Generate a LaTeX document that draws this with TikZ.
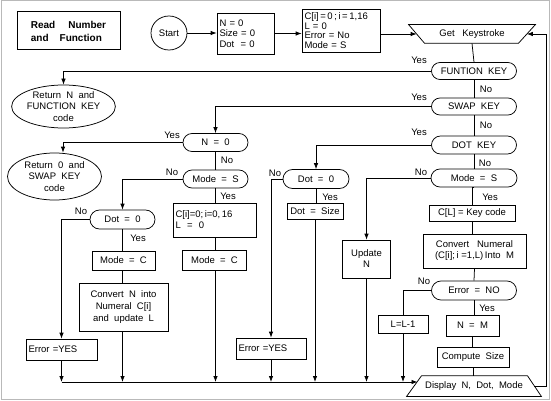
\documentclass[tikz,border=0pt]{standalone}
\usepackage{fontspec}
\setmainfont{Liberation Sans}
\usetikzlibrary{shapes.geometric,arrows.meta,calc}
\begin{document}
\begin{tikzpicture}[x=1pt,y=-1pt,line width=0.75pt,
  every node/.style={font=\fontsize{9.5}{11}\selectfont,inner sep=1.5pt},
  box/.style 2 args={draw,rectangle,minimum width=#1pt,minimum height=#2pt,align=center},
  lbox/.style 2 args={draw,rectangle,minimum width=#1pt,minimum height=#2pt,text width=#1pt-5pt,align=left,inner sep=2.5pt},
  stad/.style 2 args={draw,rectangle,rounded corners=#2/2*1pt,minimum width=#1pt,minimum height=#2pt},
  ell/.style 2 args={draw,ellipse,minimum width=#1pt,minimum height=#2pt,inner sep=0pt,align=center,font=\fontsize{9.5}{11.5}\selectfont},
  hid/.style 2 args={rectangle,minimum width=#1pt,minimum height=#2pt},
  lbl/.style={inner sep=0pt,font=\fontsize{9.5}{11}\selectfont},
  arr/.style={-{Latex[length=6pt,width=4.5pt]}}
]
\useasboundingbox (0,0) rectangle (551,401);
\draw[gray!55,line width=1pt] (1,1) rectangle (549,399);

% top row
\node[box={103}{38},line width=1pt,font=\bfseries\fontsize{10}{13}\selectfont,align=left] (title) at (68.5,31) {Read\hspace{1.3em}Number\\and\hspace{1.1em}Function};
\node[draw,ellipse,minimum width=36pt,minimum height=34pt,inner sep=0pt] (start) at (169,33) {Start};
\node[lbox={57}{41},font=\fontsize{9.5}{10.3}\selectfont] (n0) at (245.5,33.5) {N = 0\\Size = 0\\Dot\ \ = 0};
\node[lbox={78}{43},font=\fontsize{9.5}{9.6}\selectfont] (ci) at (341,30.5) {C[i]\,=\,0\,;\,i\,=\,1,16\\L = 0\\Error = No\\Mode = S};
\node[hid={126}{18}] (getk) at (472,34) {Get\hspace{0.8em}Keystroke};
\draw (getk.north west) -- (getk.north east) -- ([xshift=-17pt]getk.south east) -- ([xshift=16pt]getk.south west) -- cycle;

% trunk
\node[stad={85}{17}] (func) at (474,71) {FUNTION\ \ KEY};
\node[stad={85}{17}] (swap) at (474,106.5) {SWAP\ \ KEY};
\node[stad={85}{18}] (dotkey) at (474,145) {DOT\ \ KEY};
\node[stad={86}{18}] (modes2) at (474,178) {Mode\ \ =\ \ S};
\node[box={86}{16}] (clkey) at (472,213) {C[L] = Key code};
\node[box={103}{34}] (convm) at (474.5,251) {Convert\ \ \ Numeral\\(C[i];\,i =1,L)\,Into\ \ M};
\node[stad={85}{19}] (errno) at (474,290.5) {Error\ \ =\ \ NO};
\node[box={53}{21}] (nm) at (472.5,325.5) {N\ \ =\ \ M};
\node[box={72}{20}] (comp) at (473,357) {Compute\ \ Size};
\node[hid={134}{20}] (disp) at (474,386) {Display\ \ N,\ \ Dot,\ \ Mode};
\draw ([xshift=15pt]disp.north west) -- ([xshift=-14pt]disp.north east) -- (disp.south east) -- (disp.south west) -- cycle;

% left branches
\node[ell={99}{43}] (ret1) at (63.5,106.5) {Return\ \ N\ \ and\\FUNCTION\ \ KEY\\code};
\node[stad={65}{18}] (nz) at (215.5,142.5) {N\ \ =\ \ 0};
\node[ell={94}{47}] (ret2) at (54.5,176.5) {Return\ \ 0\ \ and\\SWAP\ \ KEY\\code};
\node[stad={65}{18}] (modes1) at (215.5,179) {Mode\ \ =\ \ S};
\node[lbox={83}{34}] (ci2) at (214.5,220) {C[i]=0;\,i=0,\,16\\L\ \ =\ \ 0};
\node[box={64}{20}] (modec1) at (214.5,260) {Mode\ \ =\ \ C};
\node[stad={65}{19}] (dotz1) at (122.5,219.5) {Dot\ \ =\ \ 0};
\node[box={63}{19}] (modec2) at (123.5,260.5) {Mode\ \ =\ \ C};
\node[box={89}{48},font=\fontsize{9.5}{12}\selectfont] (convn) at (123.5,307) {Convert\ \ N\ \ into\\Numeral\ \ C[i]\\and\ \ update\ \ L};
\node[lbox={71}{21}] (err1) at (61.5,349.5) {Error\ =YES};

% middle branches
\node[stad={66}{19}] (dotz2) at (316,179) {Dot\ \ =\ \ 0};
\node[box={56}{16}] (dotsize) at (315,211) {Dot\ \ =\ \ Size};
\node[lbox={70}{21}] (err2) at (271,348.5) {Error\ =YES};
\node[box={48}{38}] (update) at (366.5,259) {Update\\N};
\node[box={50}{18}] (llm) at (403,324) {L=L-1};

\coordinate (busE) at (417.5,382);
\coordinate (loopR) at (546,0);

% connectors
\draw[arr] (start.east) -- (start.east -| n0.west);
\draw[arr] (n0.east) -- (n0.east -| ci.west);
\draw[arr] (ci.east |- getk) -- ([xshift=8pt]getk.west);
\draw (getk.south) -- (func.north);
\draw (func.south) -- (swap.north);
\draw (swap.south) -- (dotkey.north);
\draw (dotkey.south) -- (modes2.north);
\draw (modes2.south) -- (clkey.south |- modes2.south) -- (clkey.north);
\draw (clkey.south) -- (clkey.south |- convm.north);
\draw (convm.south) -- (errno.north);
\draw (errno.south) -- (errno.south |- nm.north);
\draw (nm.south) -- (nm.south |- comp.north);
\draw (comp.south) -- (comp.south |- disp.north);

\draw[arr] (func.west) -| (ret1.north);
\draw[arr] (swap.west) -| (nz.north);
\draw[arr] (nz.west) -| ([xshift=8.5pt]ret2.north);
\draw (nz.south) -- (modes1.north);
\draw[arr] (modes1.west) -| (dotz1.north);
\draw (modes1.south) -- (modes1.south |- ci2.north);
\draw (modes1.south |- ci2.south) -- (modes1.south |- modec1.north);
\draw[arr] (dotz1.west) -| (err1.north);
\draw (dotz1.south) -- (dotz1.south |- modec2.north);
\draw (dotz1.south |- modec2.south) -- (dotz1.south |- convn.north);

\draw[arr] (dotkey.west) -| (dotz2.north);
\draw[arr] (dotz2.west) -| (err2.north);
\draw (dotz2.south) -- (dotz2.south |- dotsize.north);
\draw[arr] (modes2.west) -| (update.north);
\draw (errno.west) -| (llm.north);

% bus
\draw[arr] (err1.south) -- (err1.south |- busE);
\draw[arr] (dotz1.south |- convn.south) -- (dotz1.south |- busE);
\draw[arr] (modes1.south |- modec1.south) -- (modes1.south |- busE);
\draw[arr] (err2.south) -- (err2.south |- busE);
\draw[arr] (dotsize.south) -- (dotsize.south |- busE);
\draw[arr] (update.south) -- (update.south |- busE);
\draw[arr] (llm.south) -- (llm.south |- busE);
\draw[arr] (err1.south |- busE) -- (busE);

% loop
\draw[arr] ([xshift=-7pt]disp.east) -- (disp.east -| loopR) -- (getk.east -| loopR) -- ([xshift=-8.5pt]getk.east);

% labels
\node[lbl] (y1) at (419,60) {Yes};
\node[lbl] (n1) at (486,89) {No};
\node[lbl] (y2) at (419,97) {Yes};
\node[lbl] (n2) at (486,125) {No};
\node[lbl] (y3) at (419,132) {Yes};
\node[lbl] (n3) at (485,163) {No};
\node[lbl] (n4) at (421,172) {No};
\node[lbl] (y4) at (490,197) {Yes};
\node[lbl] (n5) at (424,281) {No};
\node[lbl] (y5) at (487,308) {Yes};
\node[lbl] (y6) at (172,135) {Yes};
\node[lbl] (n6) at (227,160) {No};
\node[lbl] (n7) at (172,172) {No};
\node[lbl] (y7) at (228,196) {Yes};
\node[lbl] (n8) at (81,211) {No};
\node[lbl] (y8) at (138,238) {Yes};
\node[lbl] (n9) at (275,173) {No};
\node[lbl] (y9) at (330,197) {Yes};
\end{tikzpicture}
\end{document}
